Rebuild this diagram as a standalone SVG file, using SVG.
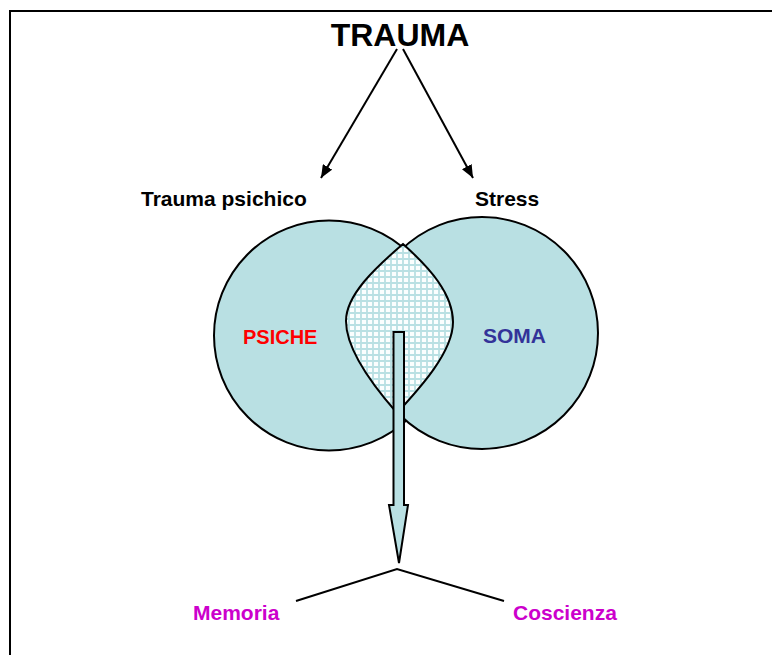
<svg xmlns="http://www.w3.org/2000/svg" width="772" height="655" viewBox="0 0 772 655">
<style>
text{font-family:"Liberation Sans",Arial,sans-serif;font-weight:bold}
.lbl{font-size:21px;fill:#000}
.circ{fill:#b9e0e3;stroke:#000;stroke-width:2}
.ln{stroke:#000;stroke-width:2;fill:none}
</style>
<defs>
<pattern id="grid" x="0" y="0" width="6" height="6" patternUnits="userSpaceOnUse">
<rect width="6" height="6" fill="#fbfefe"/>
<path d="M1,0V6M0,1H6" stroke="#b9e0e3" stroke-width="1.8"/>
</pattern>
<marker id="ah" viewBox="0 0 13 11" refX="13" refY="5.5" markerWidth="13" markerHeight="11" markerUnits="userSpaceOnUse" orient="auto">
<path d="M0,0L13,5.5L0,11Z" fill="#000"/>
</marker>
</defs>
<rect width="772" height="655" fill="#fff"/>
<path d="M10,655V11H772" fill="none" stroke="#000" stroke-width="2"/>
<g id="trauma"><text x="400" y="46" text-anchor="middle" style="font-size:32px">TRAUMA</text></g>
<g id="trauma-psichico"><text class="lbl" x="141" y="206">Trauma psichico</text></g>
<g id="stress"><text class="lbl" x="475" y="206">Stress</text></g>
<g id="psiche">
<circle class="circ" cx="329" cy="335.5" r="115"/>
</g>
<g id="soma">
<circle class="circ" cx="482" cy="333" r="116"/>
</g>
<g id="intersection">
<path d="M403,244 C375,268 346,295 346,321 C346,350 375,388 397,413 C420,388 453,352 453,322 C453,294 430,268 403,244 Z" fill="url(#grid)" stroke="#000" stroke-width="2"/>
</g>
<g id="psiche-label"><text class="lbl" x="243" y="344" style="font-size:20px;fill:#ff0000">PSICHE</text></g>
<g id="soma-label"><text class="lbl" x="483" y="343" style="fill:#333399">SOMA</text></g>
<g id="memoria"><text class="lbl" x="193" y="620" style="fill:#cc00cc">Memoria</text></g>
<g id="coscienza"><text class="lbl" x="513" y="620" style="fill:#cc00cc">Coscienza</text></g>
<g id="connectors">
<line class="ln" x1="397" y1="49" x2="321" y2="178" marker-end="url(#ah)"/>
<line class="ln" x1="403" y1="49" x2="473" y2="178" marker-end="url(#ah)"/>
<path d="M393.5,332H404V505H408L399,563L389,505H393.5Z" fill="#b9e0e3" stroke="#000" stroke-width="2" stroke-linejoin="miter"/>
<path class="ln" d="M296,601L397,569L504,601"/>
</g>
</svg>
